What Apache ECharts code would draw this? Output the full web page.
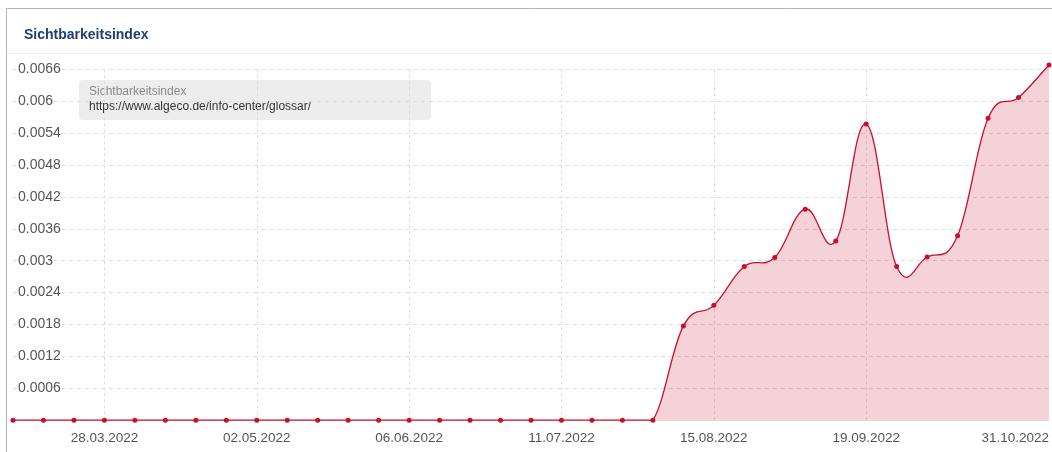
<!DOCTYPE html>
<html>
<head>
<meta charset="utf-8">
<script src="https://cdn.jsdelivr.net/npm/echarts@6/dist/echarts.min.js"></script>
<style>
html,body{margin:0;padding:0;background:#fff;}
#chart{width:1052px;height:452px;}
</style>
</head>
<body>
<div id="chart"></div>
<script>
// ---- data ----
const categories = [
  '07.03.2022','14.03.2022','21.03.2022','28.03.2022','04.04.2022','11.04.2022','18.04.2022','25.04.2022',
  '02.05.2022','09.05.2022','16.05.2022','23.05.2022','30.05.2022','06.06.2022','13.06.2022','20.06.2022',
  '27.06.2022','04.07.2022','11.07.2022','18.07.2022','25.07.2022','01.08.2022','08.08.2022','15.08.2022',
  '22.08.2022','29.08.2022','05.09.2022','12.09.2022','19.09.2022','26.09.2022','03.10.2022','10.10.2022',
  '17.10.2022','24.10.2022','31.10.2022'
];
const visibilityValues = [
  0,0,0,0,0,0,0,0,
  0,0,0,0,0,0,0,0,
  0,0,0,0,0,0,0.00177,0.00216,
  0.00289,0.00306,0.00397,0.00337,0.00557,0.00289,0.00307,0.00347,
  0.00568,0.00607,0.00668
];
const xTickLabels = ['28.03.2022','02.05.2022','06.06.2022','11.07.2022','15.08.2022','19.09.2022','31.10.2022'];
const xGridLabels = ['28.03.2022','02.05.2022','06.06.2022','11.07.2022','15.08.2022','19.09.2022'];
const seriesName = 'Sichtbarkeitsindex';
const seriesUrl = 'https://www.algeco.de/info-center/glossar/';
const titleText = 'Sichtbarkeitsindex';

const lineColor = '#c8102e';
const areaColor = 'rgba(200,16,46,0.19)';
const FONT = 'Liberation Sans, Arial, sans-serif';

// spline path through the points, positions computed with the chart's own axes (api.coord)
function renderSpline(params, api) {
  if (params.dataIndex !== 0) return null;
  const pts = visibilityValues.map((v, i) => api.coord([i, v]));
  const base = api.coord([0, 0])[1];
  const s = 1.5, den = 2.5;
  const ctrl = pts.map((p, i) => {
    const prev = pts[i - 1] || p, next = pts[i + 1] || p;
    let lx = (s * p[0] + prev[0]) / den, ly = (s * p[1] + prev[1]) / den;
    let rx = (s * p[0] + next[0]) / den, ry = (s * p[1] + next[1]) / den;
    let corr = 0;
    if (rx !== lx) corr = ((ry - ly) * (rx - p[0])) / (rx - lx) + p[1] - ry;
    ly += corr; ry += corr;
    return {l: [lx, Math.min(ly, base)], r: [rx, Math.min(ry, base)]};
  });
  let d = 'M' + pts[0][0] + ',' + pts[0][1];
  for (let i = 0; i < pts.length - 1; i++) {
    const c1 = ctrl[i].r, c2 = ctrl[i + 1].l, p = pts[i + 1];
    d += ' C' + c1[0] + ',' + c1[1] + ' ' + c2[0] + ',' + c2[1] + ' ' + p[0] + ',' + p[1];
  }
  const last = pts[pts.length - 1];
  const area = d + ' L' + last[0] + ',' + base + ' L' + pts[0][0] + ',' + base + ' Z';
  return {
    type: 'group',
    children: [
      {type: 'path', shape: {pathData: area}, style: {fill: areaColor, stroke: null}},
      {type: 'path', shape: {pathData: d}, style: {fill: null, stroke: lineColor, lineWidth: 1.3}}
    ]
  };
}

const chart = echarts.init(document.getElementById('chart'), null, {renderer: 'canvas'});
chart.setOption({
  animation: false,
  backgroundColor: '#ffffff',
  textStyle: {fontFamily: FONT},
  title: {
    text: titleText,
    left: 19, top: 23,
    textStyle: {fontSize: 14, fontWeight: 'bold', color: '#1e3f73', fontFamily: FONT}
  },
  graphic: [
    {type: 'rect', silent: true, z: -1,
     shape: {x: 6.5, y: 8.5, width: 1060, height: 460},
     style: {fill: 'none', stroke: '#b5b5b5', lineWidth: 1}},
    {type: 'line', silent: true, z: -1,
     shape: {x1: 7, y1: 53.5, x2: 1052, y2: 53.5},
     style: {stroke: '#efefef', lineWidth: 1}},
    {type: 'group', left: 79, top: 80, z: 100, children: [
      {type: 'rect', shape: {x: 0, y: 0, width: 352, height: 40, r: 4},
       style: {fill: 'rgba(236,236,236,0.93)'}},
      {type: 'text', left: 10, top: 6,
       style: {text: seriesName, fill: '#8a8a8a', fontSize: 12, fontFamily: FONT}},
      {type: 'text', left: 10, top: 21,
       style: {text: seriesUrl, fill: '#333333', fontSize: 12, fontFamily: FONT}}
    ]}
  ],
  grid: {left: 13, right: 2.7, top: 69.3, bottom: 31.8, containLabel: false},
  xAxis: {
    type: 'category',
    data: categories,
    boundaryGap: false,
    axisLine: {show: true, lineStyle: {color: '#e6e6e6'}},
    axisTick: {show: false},
    axisLabel: {
      interval: (i, v) => xTickLabels.includes(v),
      color: '#555', fontSize: 13.5, margin: 11,
      alignMaxLabel: 'right'
    },
    splitLine: {
      show: true,
      interval: (i, v) => xGridLabels.includes(v),
      lineStyle: {color: '#dddddd', type: [3, 3]}
    }
  },
  yAxis: {
    type: 'value',
    min: 0, max: 0.0066, interval: 0.0006,
    axisLine: {show: false},
    axisTick: {show: false},
    axisLabel: {
      inside: true, margin: 4, color: '#555', fontSize: 14,
      showMinLabel: false,
      backgroundColor: '#ffffff', padding: [0, 1]
    },
    splitLine: {show: true, lineStyle: {color: '#dddddd', type: [4, 4]}}
  },
  series: [
    {
      name: seriesName,
      type: 'custom',
      renderItem: renderSpline,
      data: visibilityValues.map((v, i) => [i, v]),
      encode: {x: 0, y: 1},
      clip: false,
      z: 2
    },
    {
      name: seriesName,
      type: 'line',
      data: visibilityValues,
      clip: false,
      symbol: 'circle',
      symbolSize: 5,
      showSymbol: true,
      itemStyle: {color: lineColor},
      lineStyle: {opacity: 0},
      z: 3
    }
  ]
});
</script>
</body>
</html>
